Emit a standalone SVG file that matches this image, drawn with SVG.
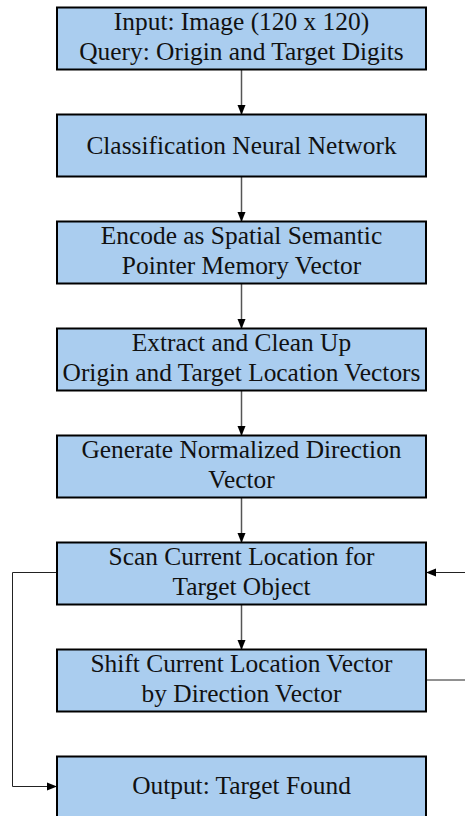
<svg xmlns="http://www.w3.org/2000/svg" width="465" height="816" viewBox="0 0 465 816">
<style>
.box{fill:#aacdef;stroke:#000;stroke-width:2}
.t{font-family:"Liberation Serif","Times New Roman",serif;font-size:25.4px;fill:#111;text-anchor:middle}
.c{fill:none;stroke:#555;stroke-width:1.5}
.k{fill:none;stroke:#222;stroke-width:1}
</style>
<defs>
<marker id="ah" markerWidth="10" markerHeight="10" refX="9" refY="5" orient="auto" markerUnits="userSpaceOnUse">
<path d="M0,1 L10,5 L0,9 Z" fill="#000"/>
</marker>
</defs>
<rect width="465" height="816" fill="#fff"/>
<g id="connectors">
<line class="c" x1="241.5" y1="69" x2="241.5" y2="114" marker-end="url(#ah)"/>
<line class="c" x1="241.5" y1="176" x2="241.5" y2="221" marker-end="url(#ah)"/>
<line class="c" x1="241.5" y1="283" x2="241.5" y2="328" marker-end="url(#ah)"/>
<line class="c" x1="241.5" y1="390" x2="241.5" y2="435" marker-end="url(#ah)"/>
<line class="c" x1="241.5" y1="497" x2="241.5" y2="542" marker-end="url(#ah)"/>
<line class="c" x1="241.5" y1="604" x2="241.5" y2="649" marker-end="url(#ah)"/>
<line class="k" x1="465" y1="572.5" x2="427" y2="572.5" marker-end="url(#ah)"/>
<line class="k" x1="426" y1="680" x2="465" y2="680"/>
<polyline class="k" points="57,572.5 12.5,572.5 12.5,786.5 56,786.5" marker-end="url(#ah)"/>
</g>
<g id="n1"><rect class="box" x="57" y="7.5" width="369" height="62"/>
<text class="t" x="241.5" y="29.5">Input: Image (120 x 120)</text>
<text class="t" x="241.5" y="60">Query: Origin and Target Digits</text></g>
<g id="n2"><rect class="box" x="57" y="114.5" width="369" height="62"/>
<text class="t" x="241.5" y="154">Classification Neural Network</text></g>
<g id="n3"><rect class="box" x="57" y="221.5" width="369" height="62"/>
<text class="t" x="241.5" y="243.5">Encode as Spatial Semantic</text>
<text class="t" x="241.5" y="274">Pointer Memory Vector</text></g>
<g id="n4"><rect class="box" x="57" y="328.5" width="369" height="62"/>
<text class="t" x="241.5" y="350.5">Extract and Clean Up</text>
<text class="t" x="241.5" y="381">Origin and Target Location Vectors</text></g>
<g id="n5"><rect class="box" x="57" y="435.5" width="369" height="62"/>
<text class="t" x="241.5" y="457.5">Generate Normalized Direction</text>
<text class="t" x="241.5" y="488">Vector</text></g>
<g id="n6"><rect class="box" x="57" y="542.5" width="369" height="62"/>
<text class="t" x="241.5" y="564.5">Scan Current Location for</text>
<text class="t" x="241.5" y="595">Target Object</text></g>
<g id="n7"><rect class="box" x="57" y="649.5" width="369" height="62"/>
<text class="t" x="241.5" y="671.5">Shift Current Location Vector</text>
<text class="t" x="241.5" y="702">by Direction Vector</text></g>
<g id="n8"><rect class="box" x="57" y="756.5" width="369" height="62"/>
<text class="t" x="241.5" y="794">Output: Target Found</text></g>
</svg>
